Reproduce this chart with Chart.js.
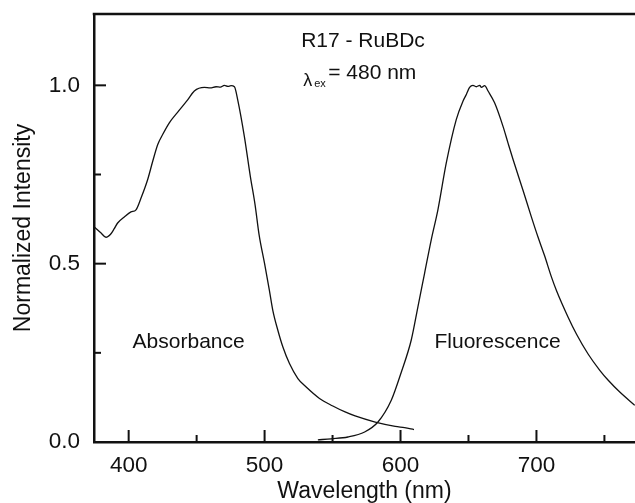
<!DOCTYPE html>
<html>
<head>
<meta charset="utf-8">
<script src="https://cdn.jsdelivr.net/npm/chart.js@4.4.1/dist/chart.umd.min.js"></script>
<style>
  html, body { margin: 0; padding: 0; background: #fff; }
  #wrap { width: 635px; height: 503px; position: relative; }
</style>
</head>
<body>
<div id="wrap"><canvas id="spectraChart"></canvas></div>
<script>
// R17 - RuBDc spectra (normalized)

const absWavelength = [374.7, 379.7, 383.3, 387.0, 389.4, 391.9, 396.8, 401.7, 405.4, 409.1,
    414.0, 417.7, 421.4, 425.0, 429.9, 436.1, 443.4, 448.3, 455.7, 460.0,
    464.3, 467.5, 470.4, 473.0, 475.3, 477.8, 480.3, 485.1, 489.5, 493.0,
    496.0, 500.0, 503.5, 506.0, 509.7, 513.4, 518.3, 524.5, 530.6,
    540.4, 550.2, 558.8, 566.6, 581.4, 596.1, 603.0, 609.9];
const absIntensity = [0.603, 0.586, 0.574, 0.584, 0.598, 0.614, 0.631, 0.645, 0.651, 0.684,
    0.736, 0.787, 0.834, 0.862, 0.895, 0.925, 0.959, 0.984, 0.994, 0.993,
    0.996, 0.995, 1.000, 0.997, 0.999, 0.996, 0.958, 0.857, 0.745, 0.665,
    0.580, 0.500, 0.426, 0.370, 0.314, 0.267, 0.220, 0.178, 0.154,
    0.122, 0.101, 0.085, 0.073, 0.056, 0.044, 0.040, 0.035];

const fluWavelength = [539.2, 549.0, 561.3, 573.6, 583.4, 593.2, 600.5, 607.9, 612.8, 617.7,
    622.6, 627.5, 633.7, 641.0, 646.0, 648.5, 650.8, 653.3, 655.7, 658.3,
    659.5, 661.9, 664.4, 669.2, 675.4, 679.1, 682.8, 690.1, 696.2, 701.2,
    706.0, 711.0, 714.7, 723.3, 729.5, 738.1, 746.6, 752.8, 761.3, 772.3];
const fluIntensity = [0.006, 0.009, 0.014, 0.028, 0.056, 0.117, 0.195, 0.286, 0.379, 0.473,
    0.567, 0.651, 0.783, 0.904, 0.956, 0.975, 0.994, 1.000, 0.996, 1.000,
    0.994, 0.999, 0.984, 0.951, 0.885, 0.838, 0.792, 0.706, 0.632, 0.574,
    0.522, 0.463, 0.425, 0.350, 0.302, 0.246, 0.201, 0.173, 0.140, 0.103];

const xMajorTicks = [400, 500, 600, 700];
const xMinorTicks = [450, 550, 650, 750];
const yMajorTicks = [0.0, 0.5, 1.0];
const yMinorTicks = [0.25, 0.75];

const FONT = "'Liberation Sans', Arial, sans-serif";

function toPoints(xs, ys) {
    return xs.map((x, i) => ({ x: x, y: ys[i] }));
}

// drop the label-overflow padding chart.js adds, so the plot box is where we want it
function noPad(scale) {
    scale.paddingTop = 0;
    scale.paddingBottom = 0;
    scale.paddingLeft = 0;
    scale.paddingRight = 0;
}

// inward tick marks + top frame line
const frameTicks = {
    id: 'frameTicks',
    afterDatasetsDraw(chart) {
        const { ctx, chartArea: a, scales: { x, y } } = chart;
        ctx.save();
        ctx.strokeStyle = '#111';
        ctx.lineWidth = 2.5;
        ctx.beginPath();
        ctx.moveTo(a.left - 1.25, a.top);
        ctx.lineTo(a.right, a.top);
        ctx.stroke();
        ctx.lineWidth = 2;
        const seg = (x1, y1, x2, y2) => {
            ctx.beginPath();
            ctx.moveTo(x1, y1);
            ctx.lineTo(x2, y2);
            ctx.stroke();
        };
        xMajorTicks.forEach(v => { const p = x.getPixelForValue(v); seg(p, a.bottom, p, a.bottom - 12); });
        xMinorTicks.forEach(v => { const p = x.getPixelForValue(v); seg(p, a.bottom, p, a.bottom - 7); });
        yMajorTicks.forEach(v => { const p = y.getPixelForValue(v); seg(a.left, p, a.left + 12, p); });
        yMinorTicks.forEach(v => { const p = y.getPixelForValue(v); seg(a.left, p, a.left + 7, p); });
        ctx.restore();
    }
};

// text labels inside the plot
const plotLabels = {
    id: 'plotLabels',
    afterDatasetsDraw(chart) {
        const { ctx, scales: { x, y } } = chart;
        ctx.save();
        ctx.fillStyle = '#111';
        ctx.textBaseline = 'alphabetic';
        ctx.textAlign = 'left';
        ctx.font = '21px ' + FONT;
        ctx.fillText('R17 - RuBDc', x.getPixelForValue(526.9), y.getPixelForValue(1.107));
        ctx.fillText('Absorbance', x.getPixelForValue(402.9), y.getPixelForValue(0.263));
        ctx.fillText('Fluorescence', x.getPixelForValue(625.0), y.getPixelForValue(0.264));
        // lambda_ex = 480 nm
        const lx = x.getPixelForValue(528.4);
        const ly = y.getPixelForValue(0.997);
        ctx.font = '18px ' + FONT;
        ctx.fillText('\u03bb', lx, ly);
        ctx.font = '11px ' + FONT;
        ctx.fillText('ex', lx + 11, ly + 1);
        ctx.font = '21px ' + FONT;
        ctx.fillText('= 480 nm', lx + 25, ly - 7);
        ctx.restore();
    }
};

const ctx = document.getElementById('spectraChart').getContext('2d');
new Chart(ctx, {
    type: 'line',
    data: {
        datasets: [
            {
                label: 'Absorbance',
                data: toPoints(absWavelength, absIntensity),
                borderColor: '#111',
                borderWidth: 1.3,
                pointRadius: 0,
                fill: false,
                cubicInterpolationMode: 'monotone'
            },
            {
                label: 'Fluorescence',
                data: toPoints(fluWavelength, fluIntensity),
                borderColor: '#111',
                borderWidth: 1.3,
                pointRadius: 0,
                fill: false,
                cubicInterpolationMode: 'monotone'
            }
        ]
    },
    options: {
        responsive: true,
        maintainAspectRatio: false,
        animation: false,
        layout: { padding: { top: 14, right: 0, left: 0, bottom: 0 } },
        plugins: {
            legend: { display: false },
            tooltip: { enabled: false },
            title: { display: false }
        },
        scales: {
            x: {
                type: 'linear',
                min: 374.5,
                max: 772.5,
                afterBuildTicks: scale => { scale.ticks = xMajorTicks.map(v => ({ value: v })); },
                afterFit: scale => { scale.height = 61; noPad(scale); },
                grid: { display: false, drawTicks: false },
                border: { display: true, width: 2.5, color: '#111' },
                ticks: { color: '#111', padding: 10, font: { family: FONT, size: 22.5 }, maxRotation: 0 },
                title: { display: true, text: 'Wavelength (nm)', color: '#111', padding: 0,
                    font: { family: FONT, size: 23, lineHeight: 1.0 } }
            },
            y: {
                min: 0,
                max: 1.2,
                afterBuildTicks: scale => { scale.ticks = yMajorTicks.map(v => ({ value: v })); },
                afterFit: scale => { scale.width = 94; noPad(scale); },
                grid: { display: false, drawTicks: false },
                border: { display: true, width: 2.5, color: '#111' },
                ticks: { color: '#111', padding: 14, font: { family: FONT, size: 22.5 },
                    callback: v => v.toFixed(1) },
                title: { display: true, text: 'Normalized Intensity', color: '#111', padding: { top: 12 },
                    font: { family: FONT, size: 23, lineHeight: 1.0 } }
            }
        }
    },
    plugins: [frameTicks, plotLabels]
});
</script>
</body>
</html>
